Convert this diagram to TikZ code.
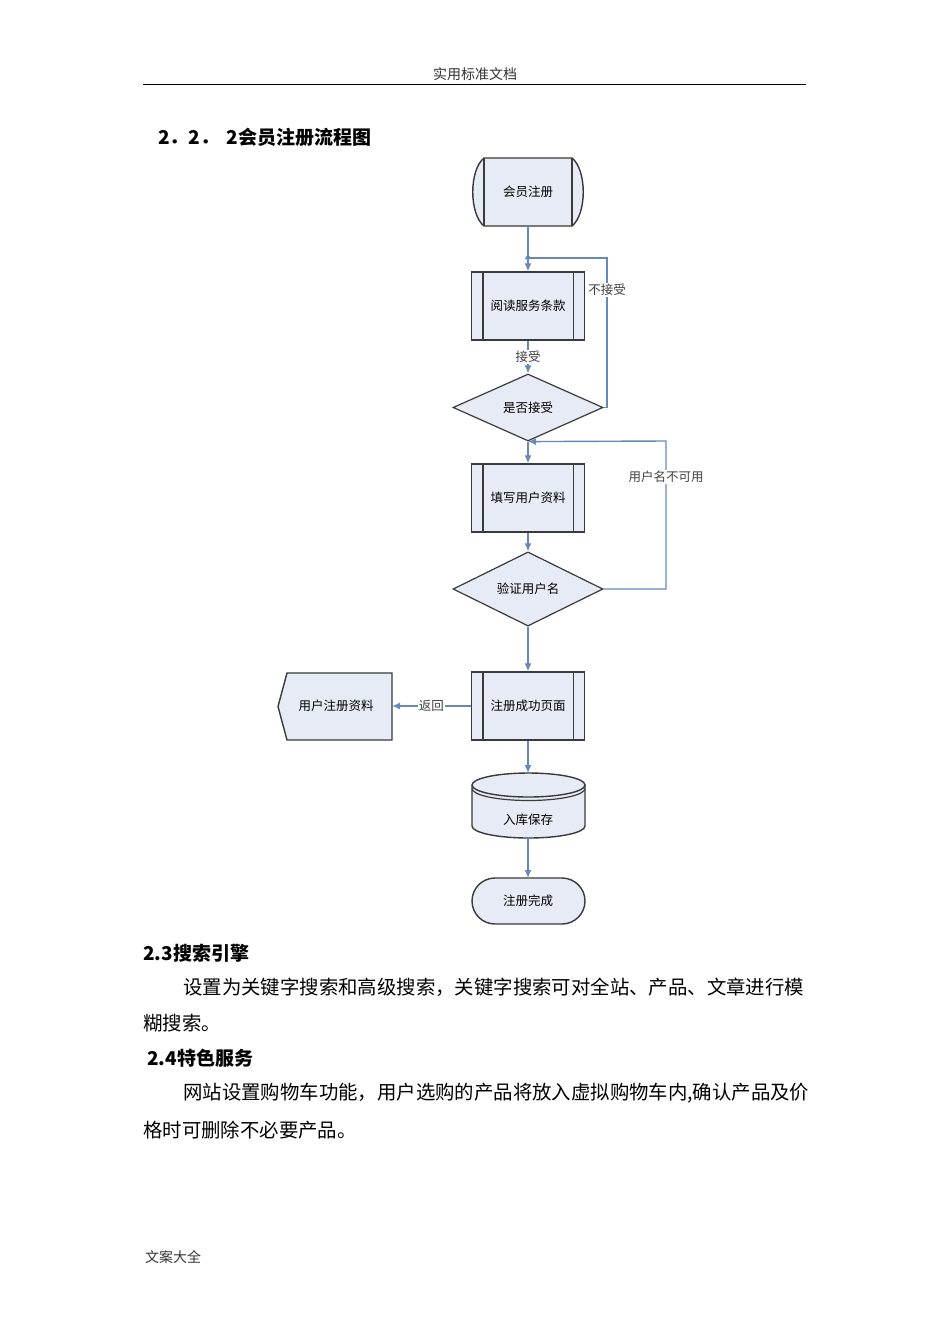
\documentclass[tikz,border=0pt]{standalone}
\usepackage{fontspec}
\setmainfont{Noto Sans CJK SC}
\usetikzlibrary{shapes.geometric,arrows.meta,calc}
\definecolor{boxfill}{HTML}{E7EBF5}
\definecolor{flowblue}{HTML}{6489BF}
\definecolor{boxline}{HTML}{3A3A3A}
\tikzset{
  proc/.style={rectangle,draw=boxline,fill=boxfill,line width=1.4pt,minimum width=113pt,minimum height=68pt,inner sep=0pt,font=\fontsize{12.5}{14}\selectfont},
  decis/.style={diamond,draw=boxline,fill=boxfill,line width=1.2pt,minimum width=150pt,minimum height=67pt,inner sep=0pt,font=\fontsize{12.5}{14}\selectfont},
  plain/.style={inner sep=0pt,font=\fontsize{12.5}{14}\selectfont},
  flow/.style={draw=flowblue,line width=1.4pt,-{Latex[length=8pt,width=7pt]}},
  link/.style={draw=flowblue,line width=1.4pt},
  lbl/.style={fill=white,inner sep=1pt,text=black!75,font=\fontsize{12.5}{14}\selectfont},
  bodytext/.style={anchor=west,inner sep=0pt,font=\fontsize{19.4}{22}\selectfont},
  headtext/.style={anchor=west,inner sep=0pt,font=\fontsize{19}{22}\selectfont\bfseries},
}
\begin{document}
\begin{tikzpicture}[x=1pt,y=-1pt]
\useasboundingbox (0,0) rectangle (950,1344);
\fill[white] (0,0) rectangle (950,1344);
% header
\node[inner sep=0pt,font=\fontsize{14}{16}\selectfont,text=black!80] (hdr) at (475,74) {实用标准文档};
\draw[line width=1pt] (143,84) -- (806,84);
\node[headtext] (h1) at (158,137) {2．2．\hspace{0.4em}2会员注册流程图};
% start terminal
\fill[boxfill] (484,158) -- (572,158) .. controls (587,170) and (587,214) .. (572,226) -- (484,226) .. controls (469,214) and (469,170) .. (484,158) -- cycle;
\draw[boxline,line width=1.4pt] (484,158) -- (572,158) .. controls (587,170) and (587,214) .. (572,226) -- (484,226) .. controls (469,214) and (469,170) .. (484,158) -- cycle;
\draw[boxline,line width=1.4pt] (484,158) -- (484,226) (572,158) -- (572,226);
\node[plain,minimum width=113pt,minimum height=68pt] (start) at (528,192) {会员注册};
% process boxes
\node[proc] (read) at (528,306) {阅读服务条款};
\node[decis] (d1) at (528,407.5) {是否接受};
\node[proc] (fill) at (528,498) {填写用户资料};
\node[decis] (d2) at (528,589) {验证用户名};
\node[proc] (succ) at (528,706) {注册成功页面};
\foreach \b in {read,fill,succ}{
  \draw[boxline,line width=1.4pt] ($(\b.north west)+(12,0)$) -- ($(\b.south west)+(12,0)$);
  \draw[boxline,line width=1.4pt] ($(\b.north east)+(-12,0)$) -- ($(\b.south east)+(-12,0)$);
}
% document shape
\draw[boxline,fill=boxfill,line width=1.4pt] (287,673) -- (392,673) -- (392,740) -- (287,740) -- (278,706.5) -- cycle;
\node[plain] (doc) at (336,706) {用户注册资料};
\coordinate (docR) at (392,706);
% cylinder (y axis points down: angles 180->360 = upper half)
\fill[boxfill] (472,785) arc[start angle=180,end angle=360,x radius=56.5,y radius=12] -- (585,826) arc[start angle=0,end angle=180,x radius=56.5,y radius=12] -- cycle;
\draw[boxline,line width=1.4pt] (472,785) arc[start angle=180,end angle=-180,x radius=56.5,y radius=12];
\draw[boxline,line width=1.2pt] (472,788.5) arc[start angle=180,end angle=0,x radius=56.5,y radius=12];
\draw[boxline,line width=1.4pt] (472,785) -- (472,826) arc[start angle=180,end angle=0,x radius=56.5,y radius=12] -- (585,785);
\node[plain] (db) at (528,820) {入库保存};
\coordinate (dbTop) at (528,773);
\coordinate (dbBot) at (528,838);
% end terminal
\draw[boxline,fill=boxfill,line width=1.4pt,rounded corners=23pt] (472,878) rectangle (585,924);
\node[plain] (endt) at (528,901) {注册完成};
\coordinate (endTop) at (528,878);
% connectors
\coordinate (j1) at (528,258);
\coordinate (c1) at (607,258);
\coordinate (c2) at (666,441);
\draw[flow] (start.south) -- (read.north);
\draw[link] (d1.east) -| (c1) -- (j1);
\draw[draw=flowblue,line width=1.4pt,-{Latex[length=6pt,width=7pt]}] ($(j1)+(0,1)$) -- ($(j1)+(0,-5)$);
\draw[flow] (read.south) -- node[lbl] (acc) {接受} (d1.north);
\node[lbl] (nacc) at (607,290) {不接受};
\draw[flow] (d1.south) -- (fill.north);
\draw[flow] (fill.south) -- (d2.north);
\draw[flow] (d2.east) -| (c2) -- (d1.south);
\node[lbl] (nuse) at (666,477) {用户名不可用};
\draw[flow] (d2.south) -- (succ.north);
\draw[flow] (succ.west) -- node[lbl] (ret) {返回} (docR);
\draw[flow] (succ.south) -- (dbTop);
\draw[flow] (dbBot) -- (endTop);
% body text
\node[headtext] (h23) at (143,953) {2.3搜索引擎};
\node[bodytext] (p1) at (183,987) {设置为关键字搜索和高级搜索，关键字搜索可对全站、产品、文章进行模};
\node[bodytext] (p2) at (143,1023) {糊搜索。};
\node[headtext] (h24) at (147,1058) {2.4特色服务};
\node[bodytext] (p3) at (183,1093) {网站设置购物车功能，用户选购的产品将放入虚拟购物车内,确认产品及价};
\node[bodytext] (p4) at (143,1130) {格时可删除不必要产品。};
\node[inner sep=0pt,anchor=west,font=\fontsize{14}{16}\selectfont,text=black!80] (ftr) at (145,1257) {文案大全};
\end{tikzpicture}
\end{document}
